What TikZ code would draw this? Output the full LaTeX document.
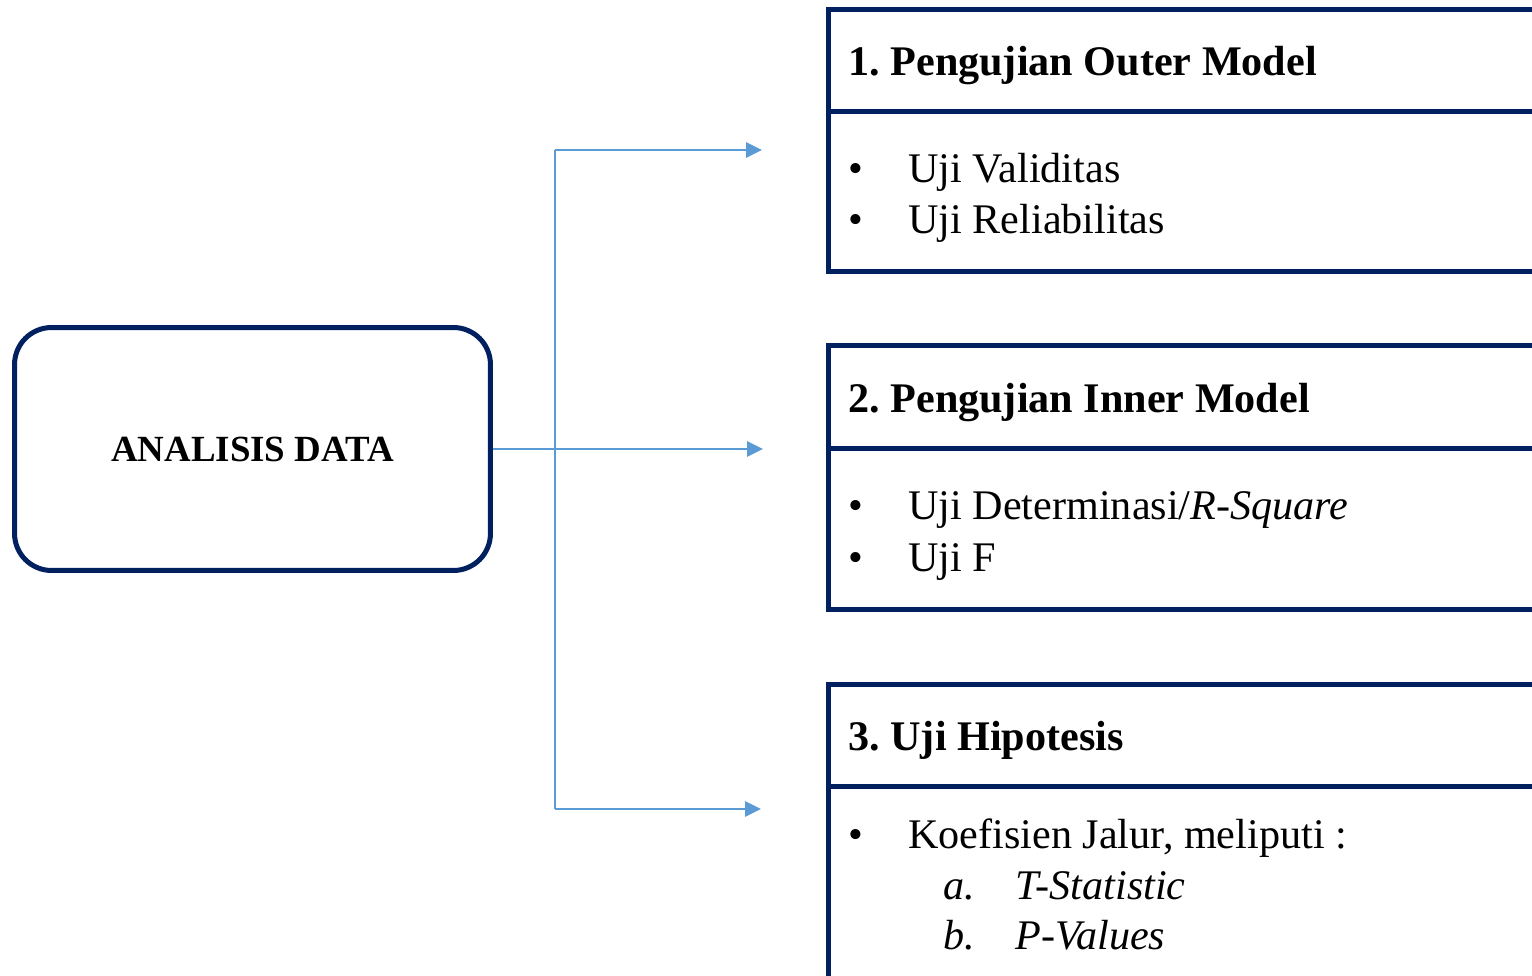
\documentclass[tikz,border=0pt]{standalone}
\usepackage{fontspec}
\setmainfont{Liberation Serif}
\usetikzlibrary{arrows.meta,positioning}
\definecolor{navy}{RGB}{0,32,96}
\definecolor{lineblue}{RGB}{91,155,213}
\frenchspacing

\begin{document}
\begin{tikzpicture}[x=0.02cm,y=-0.02cm]
	\tikzset{mainbox/.style={draw=navy, line width=0.1cm, rounded corners=0.74cm, minimum width=9.52cm, minimum height=4.86cm, inner sep=0pt},
		panel/.style={draw=navy, line width=0.1cm},
		conn/.style={draw=lineblue, line width=1.5pt},
		arr/.style={conn, -{Triangle[length=0.32cm,width=0.3cm]}},
		head/.style={anchor=base west, inner sep=0pt, font=\fontsize{24}{28}\selectfont\bfseries},
		item/.style={anchor=base west, inner sep=0pt, font=\fontsize{24}{28}\selectfont}}

	\useasboundingbox (0,0) rectangle (1532,976);
	\clip (0,0) rectangle (1532,976);

	\node[mainbox, font=\fontsize{21}{25}\selectfont\bfseries] (analisis) at (252.5,449) {ANALISIS DATA};

	\foreach \t/\m/\b in {10/112/272, 346/449/609, 684/786/1000}{
		\draw[panel] (1560,\t) -- (828,\t) -- (828,\b) -- (1560,\b);
		\draw[panel] (828,\m) -- (1560,\m);
	}

	% panel 1
	\node[head] (head1) at (848,76) {1. Pengujian Outer Model};
	\node[item] (dot1a) at (848,183) {•};
	\node[item] (uji1a) at (908,183) {Uji Validitas};
	\node[item] (dot1b) at (848,234) {•};
	\node[item] (uji1b) at (908,234) {Uji Reliabilitas};

	% panel 2
	\node[head] (head2) at (848,413) {2. Pengujian Inner Model};
	\node[item] (dot2a) at (848,520) {•};
	\node[item] (uji2a) at (908,520) {Uji Determinasi/\textit{R-Square}};
	\node[item] (dot2b) at (848,571) {•};
	\node[item] (uji2b) at (908,571) {Uji F};

	% panel 3
	\node[head] (head3) at (848,750) {3. Uji Hipotesis};
	\node[item] (dot3a) at (848,848) {•};
	\node[item] (uji3a) at (908,848) {Koefisien Jalur, meliputi :};
	\node[item] (lbl3a) at (943,899) {\textit{a.}};
	\node[item] (uji3b) at (1015,899) {\textit{T-Statistic}};
	\node[item] (lbl3b) at (943,949) {\textit{b.}};
	\node[item] (uji3c) at (1015,949) {\textit{P-Values}};

	% connectors
	\coordinate (jct) at (555,449);
	\coordinate (top) at (555,150);
	\coordinate (bot) at (555,809);
	\coordinate (end1) at (762,150);
	\coordinate (end2) at (763,449);
	\coordinate (end3) at (761,809);

	\draw[conn] (analisis.east) -- (jct);
	\draw[conn] (top) -- (bot);
	\draw[arr] (top) -- (end1);
	\draw[arr] (jct) -- (end2);
	\draw[arr] (bot) -- (end3);
\end{tikzpicture}
\end{document}
